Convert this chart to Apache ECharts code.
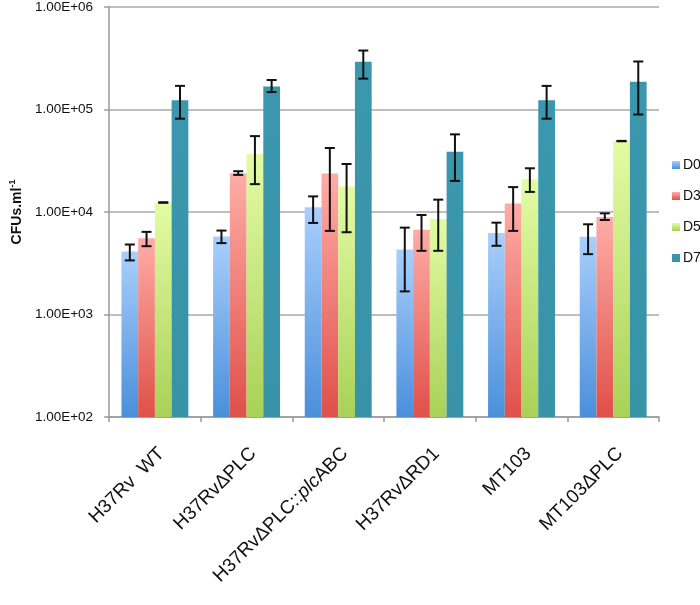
<!DOCTYPE html>
<html>
<head>
<meta charset="utf-8">
<script src="https://cdn.jsdelivr.net/npm/echarts@6/dist/echarts.min.js"></script>
<style>
html,body{margin:0;padding:0;background:#fff;}
#chart{width:700px;height:605px;}
</style>
</head>
<body>
<div id="chart"></div>
<script>
const categories = ['H37Rv  WT', 'H37RvΔPLC', 'H37RvΔPLC::plcABC', 'H37RvΔRD1', 'MT103', 'MT103ΔPLC'];
const seriesNames = ['D0', 'D3', 'D5', 'D7'];
const yTicks = ['1.00E+02', '1.00E+03', '1.00E+04', '1.00E+05', '1.00E+06'];

const D0 = [4120, 5760, 11100, 4300, 6250, 5720];
const D0Low = [3370, 4970, 7820, 1680, 4680, 3880];
const D0High = [4820, 6590, 14200, 7040, 7870, 7590];

const D3 = [5550, 23900, 23700, 6730, 12100, 8940];
const D3Low = [4640, 23000, 6540, 4180, 6540, 8360];
const D3High = [6400, 25000, 42100, 9350, 17500, 9700];

const D5 = [12400, 36800, 17700, 8550, 20900, 49300];
const D5Low = [12300, 18700, 6350, 4180, 15700, 49000];
const D5High = [12450, 55000, 29400, 13200, 26700, 49400];

const D7 = [123000, 168000, 292000, 38800, 123000, 187000];
const D7Low = [81300, 148000, 200000, 20100, 81300, 89400];
const D7High = [170000, 194000, 376000, 57200, 170000, 294000];

const values = [D0, D3, D5, D7];
const lows = [D0Low, D3Low, D5Low, D7Low];
const highs = [D0High, D3High, D5High, D7High];

const gradTop = ['#a9cffc', '#ffaca7', '#e3fca4', '#3b97ad'];
const gradBottom = ['#4a8fdb', '#df5049', '#a9d157', '#3893a9'];

const CAT_GAP = 0.27;

const chart = echarts.init(document.getElementById('chart'), null, {renderer: 'canvas'});

const barSeries = seriesNames.map((name, i) => ({
  name: name,
  type: 'bar',
  data: values[i],
  barGap: '0%',
  barCategoryGap: (CAT_GAP * 100) + '%',
  itemStyle: {
    color: {
      type: 'linear', x: 0, y: 0, x2: 0, y2: 1,
      colorStops: [{offset: 0, color: gradTop[i]}, {offset: 1, color: gradBottom[i]}]
    }
  },
  z: 2
}));

const errData = [];
for (let s = 0; s < 4; s++) {
  for (let c = 0; c < categories.length; c++) {
    errData.push([c, lows[s][c], highs[s][c], s]);
  }
}

const errSeries = {
  type: 'custom',
  name: 'err',
  data: errData,
  z: 10,
  silent: true,
  encode: {x: 0, y: [1, 2]},
  renderItem: function (params, api) {
    const c = api.value(0);
    const lo = api.value(1);
    const hi = api.value(2);
    const s = api.value(3);
    const p0 = api.coord([0, 1000]);
    const p1 = api.coord([1, 1000]);
    const band = p1[0] - p0[0];
    const barW = band * (1 - CAT_GAP) / 4;
    const base = api.coord([c, lo]);
    const x = base[0] + (s - 1.5) * barW;
    const yLo = base[1];
    const yHi = api.coord([c, hi])[1];
    const cap = 5;
    const st = {stroke: '#111', lineWidth: 2};
    return {
      type: 'group',
      children: [
        {type: 'line', shape: {x1: x, y1: yLo, x2: x, y2: yHi}, style: st},
        {type: 'line', shape: {x1: x - cap, y1: yLo, x2: x + cap, y2: yLo}, style: st},
        {type: 'line', shape: {x1: x - cap, y1: yHi, x2: x + cap, y2: yHi}, style: st}
      ]
    };
  }
};

function labelFmt(v) {
  if (v.indexOf('::plc') >= 0) {
    const parts = v.split('::plc');
    return '{n|' + parts[0] + '::}{i|plc}{n|' + parts[1] + '}';
  }
  return '{n|' + v + '}';
}

const option = {
  backgroundColor: '#ffffff',
  animation: false,
  textStyle: {fontFamily: 'Liberation Sans, Arial, sans-serif'},
  legend: {
    orient: 'vertical',
    left: 667,
    top: 153,
    itemWidth: 8,
    itemHeight: 8,
    itemGap: 17,
    data: seriesNames,
    textStyle: {fontSize: 14, color: '#111', padding: [0, 0, 0, -2]},
    icon: 'rect'
  },
  grid: {left: 102, right: 41, top: 5, bottom: 188, containLabel: false},
  xAxis: {
    type: 'category',
    data: categories,
    axisLine: {show: true, lineStyle: {color: '#9a9a9a', width: 1.5}},
    axisTick: {show: true, length: 5, lineStyle: {color: '#9a9a9a', width: 1.5}},
    axisLabel: {
      rotate: 45,
      margin: 27,
      interval: 0,
      color: '#111',
      verticalAlign: 'top',
      formatter: labelFmt,
      rich: {
        n: {fontSize: 19, color: '#111', fontFamily: 'Liberation Sans, Arial, sans-serif'},
        i: {fontSize: 19, color: '#111', fontStyle: 'italic', fontFamily: 'Liberation Sans, Arial, sans-serif'}
      }
    }
  },
  yAxis: {
    type: 'log',
    logBase: 10,
    min: 100,
    max: 1000000,
    name: '{m|CFUs.ml}{s|-1}',
    nameLocation: 'middle',
    nameGap: 85,
    nameTextStyle: {
      rich: {
        m: {fontSize: 14, fontWeight: 'bold', color: '#111', lineHeight: 16, verticalAlign: 'bottom'},
        s: {fontSize: 9, fontWeight: 'bold', color: '#111', lineHeight: 16, verticalAlign: 'top'}
      }
    },
    axisLine: {show: true, lineStyle: {color: '#9a9a9a', width: 1.5}},
    axisTick: {show: true, length: 5, lineStyle: {color: '#9a9a9a', width: 1.5}},
    splitLine: {show: true, lineStyle: {color: '#a8a8a8', width: 1.5}},
    axisLabel: {
      fontSize: 13.5,
      color: '#111',
      margin: 16,
      formatter: function (v) {
        const e = Math.round(Math.log10(v));
        return yTicks[e - 2];
      }
    }
  },
  series: barSeries.concat([errSeries])
};

chart.setOption(option);
</script>
</body>
</html>
